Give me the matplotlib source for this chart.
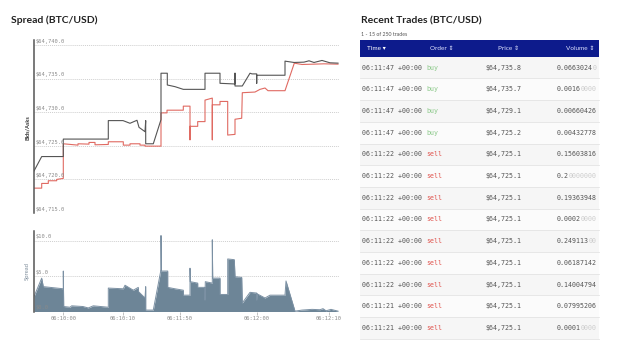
import matplotlib.pyplot as plt
from matplotlib.patches import Rectangle

W, H = 624, 341

# (t, price) points of the ask and bid lines, t runs along the time axis
ask_points = [(0, 64721.25), (7.7, 64723.4), (29.3, 64723.4), (29.3, 64726.0), (74.3, 64726.0),
              (74.3, 64728.75), (89, 64728.75), (96, 64728.35), (103, 64728.8), (105, 64727.75),
              (111, 64727.1), (111.7, 64728.75), (111.7, 64725.3), (119.3, 64725.3), (127, 64728.9),
              (127, 64735.8), (133.3, 64735.8), (133.3, 64734.05), (141, 64733.8), (149.3, 64733.4),
              (171, 64733.4), (171, 64735.8), (186, 64735.8), (186, 64734.3), (201, 64734.2),
              (201, 64735.8), (201, 64733.9), (208.3, 64733.9), (216, 64735.8), (218, 64735.7),
              (222.7, 64735.7), (222.7, 64734.3), (222.7, 64735.5), (251, 64735.5), (251, 64737.6),
              (260, 64737.4), (270, 64737.45), (275, 64737.65), (280, 64737.4), (288, 64737.7),
              (296, 64737.35), (304, 64737.3)]

bid_points = [(0, 64718.7), (7.7, 64718.7), (7.7, 64719.4), (14.3, 64719.4), (14.3, 64719.8),
              (22.7, 64719.8), (22.7, 64720.0), (29.3, 64720.15), (29.3, 64725.3), (44, 64725.1),
              (44, 64725.3), (55, 64725.25), (55, 64725.5), (61, 64725.5), (61, 64725.15),
              (74.3, 64725.2), (74.3, 64725.6), (89.3, 64725.6), (89.3, 64725.1), (96, 64725.1),
              (96, 64725.3), (106, 64725.3), (106, 64725.1), (111, 64725.1), (111, 64724.95),
              (127, 64724.95), (127, 64729.9), (133, 64729.9), (133, 64730.3), (149.3, 64730.3),
              (149.3, 64730.9), (156, 64730.9), (156, 64725.9), (156, 64727.9), (163.7, 64727.9),
              (163.7, 64728.6), (171, 64728.6), (171, 64731.8), (178.3, 64732.1), (178.3, 64725.9),
              (178.3, 64731.1), (186, 64731.1), (186, 64731.6), (193.7, 64731.6), (193.7, 64726.6),
              (201, 64726.7), (201, 64728.95), (207.7, 64729.1), (208.3, 64732.9), (221, 64733.0),
              (226, 64733.4), (231, 64733.6), (234, 64733.2), (251, 64733.2), (260.3, 64737.3),
              (268, 64737.1), (280, 64737.15), (290, 64737.2), (304, 64737.15)]

spread_points = [(0, 2.1), (7.7, 4.7), (9.3, 3.5), (16, 3.4), (22.7, 3.3), (29.3, 3.2), (29.3, 5.7),
                 (29.7, 0.7), (36, 0.6), (37.7, 0.8), (49, 0.7), (54.3, 0.5), (59.3, 0.8), (74.3, 0.6),
                 (74.3, 3.3), (89.3, 3.2), (91, 3.7), (99.3, 3.0), (104.3, 3.4), (104.5, 2.8),
                 (111, 1.9), (111.7, 3.5), (111.7, 0.2), (119.3, 0.2), (127, 5.9), (127, 10.7),
                 (127.3, 5.7), (133.7, 5.7), (133.7, 3.4), (141, 3.2), (149.3, 3.0), (149.3, 2.3),
                 (156, 2.3), (156, 6.1), (156.3, 4.2), (163.7, 4.0), (163.7, 3.4), (171, 3.4),
                 (171, 1.6), (171.3, 4.2), (178.3, 4.0), (178.3, 10.1), (178.7, 4.7), (186, 4.7),
                 (186, 2.4), (193.7, 2.4), (193.7, 7.4), (200.3, 7.3), (201, 4.9), (207.7, 4.8),
                 (208.3, 1.2), (216, 2.7), (222.7, 2.6), (222.7, 1.6), (223, 2.5), (231, 1.9),
                 (236, 2.3), (251, 2.3), (252, 4.3), (261, 0.05), (268, 0.2), (278, 0.3), (286, 0.25),
                 (289, 0.4), (292, 0.1), (297, 0.3), (304, 0.05)]

tick_pos = [29.3, 88.5, 146, 222.7, 295]
tick_labels = ['06:10:00', '06:10:10', '06:11:50', '06:12:00', '06:12:10']
price_ticks = [64715, 64720, 64725, 64730, 64735, 64740]
spread_ticks = [0, 5, 10]

trade_times = ['06:11:47'] * 4 + ['06:11:22'] * 7 + ['06:11:21'] * 2
trade_orders = ['buy'] * 4 + ['sell'] * 9
trade_prices = [64735.8, 64735.7, 64729.1, 64725.2] + [64725.1] * 9
trade_volumes = ['0.06630240', '0.00160000', '0.00660426', '0.00432778', '0.15603816',
                 '0.20000000', '0.19363948', '0.00020000', '0.24911300', '0.06187142',
                 '0.14004794', '0.07995206', '0.00010000']

mono = 'DejaVu Sans Mono'
sans = ['Lato', 'DejaVu Sans']
grid_c = '#cfcfcf'
label_c = '#8a8a8a'
mono_size = 4.8
char_w = 0.602 * mono_size * 100 / 72   # advance of one DejaVu Sans Mono glyph, px

def px_rect(left, top, right, bottom):
    return [left / W, 1 - bottom / H, (right - left) / W, (bottom - top) / H]

fig = plt.figure(figsize=(W / 100, H / 100), dpi=100)

# full-figure canvas in pixel units for the trades table
bg = fig.add_axes([0, 0, 1, 1])
bg.set_xlim(0, W)
bg.set_ylim(H, 0)
bg.axis('off')

fig.text(11 / W, 1 - 20.5 / H, 'Spread (BTC/USD)', fontsize=7.5, fontweight='bold',
         family=sans, va='center', color='#222222')
fig.text(361 / W, 1 - 20.5 / H, 'Recent Trades (BTC/USD)', fontsize=7.5, fontweight='bold',
         family=sans, va='center', color='#222222')
fig.text(361 / W, 1 - 34 / H, '1 - 15 of 250 trades', fontsize=3.8, family=sans,
         va='center', color='#555555')

#Top: bids / asks
ax1 = fig.add_axes(px_rect(34, 40, 339, 213))
ax1.plot([p[0] for p in bid_points], [p[1] for p in bid_points], color='#e06a62', lw=0.8)
ax1.plot([p[0] for p in ask_points], [p[1] for p in ask_points], color='#555555', lw=0.8)
ax1.set_xlim(0, 305)
ax1.set_ylim(64715, 64715 + 173 / 6.72)

#Bottom: spread area
ax2 = fig.add_axes(px_rect(34, 231, 339, 311.5))
st = [p[0] for p in spread_points]
sv = [p[1] for p in spread_points]
ax2.fill_between(st, 0, sv, color='#6d8597', lw=0)
ax2.plot(st, sv, color='#7b90a3', lw=0.7)
ax2.set_xlim(0, 305)
ax2.set_ylim(0, 80.5 / 7.1)

for ax, ticks, fmt in [(ax1, price_ticks, '${:,.1f}'), (ax2, spread_ticks, '${:.1f}')]:
    for v in ticks:
        ax.axhline(v, color=grid_c, lw=0.7, ls=(0, (1, 1)), zorder=0)
        ax.annotate(fmt.format(v), xy=(0, v), xycoords=('axes fraction', 'data'),
                    xytext=(1.2, 0.8), textcoords='offset points', va='bottom', ha='left',
                    fontsize=3.9, family=mono, color=label_c)
    ax.set_yticks([])
    for s in ['top', 'right', 'bottom']:
        ax.spines[s].set_visible(False)
    ax.spines['left'].set_color('#555555')
    ax.spines['left'].set_linewidth(1.1)

ax1.set_xticks([])
ax2.set_xticks(tick_pos)
ax2.set_xticklabels(tick_labels, fontsize=3.9, family=mono, color=label_c)
ax2.tick_params(axis='x', length=2, width=0.5, color='#aaaaaa', pad=1.5)

fig.text(27 / W, 1 - 128 / H, 'Bids/Asks', rotation=90, fontsize=4, fontweight='bold',
         family=sans, color='#333333', ha='center', va='center')
fig.text(27 / W, 1 - 271 / H, 'Spread', rotation=90, fontsize=4.2, family=sans,
         color='#7a8a98', ha='center', va='center')

#Trades table
bg.add_patch(Rectangle((360, 40), 239, 16.7, color='#0d1b8c', lw=0))
header_y = 48.5
bg.text(367, header_y, 'Time \u25be', color='white', fontsize=4.6, family=sans, va='center')
bg.text(430, header_y, 'Order \u21d5', color='#dfe3ff', fontsize=4.6, family=sans, va='center')
bg.text(498, header_y, 'Price \u21d5', color='#dfe3ff', fontsize=4.6, family=sans, va='center')
bg.text(595, header_y, 'Volume \u21d5', color='#dfe3ff', fontsize=4.6, family=sans,
        va='center', ha='right')

row_h = 21.7
for i in range(len(trade_times)):
    top = 56.7 + i * row_h
    bg.add_patch(Rectangle((360, top), 239, row_h, color='#f6f6f6' if i % 2 == 0 else '#fbfbfb', lw=0))
    bg.plot([360, 599], [top + row_h, top + row_h], color='#e4e4e4', lw=0.6)
    cy = top + row_h / 2
    bg.text(362.5, cy, trade_times[i] + ' +00:00', fontsize=mono_size, family=mono,
            color='#555555', va='center')
    oc = '#8cc98a' if trade_orders[i] == 'buy' else '#e0554f'
    bg.text(362.5 + 16 * char_w, cy, trade_orders[i], fontsize=mono_size, family=mono,
            color=oc, va='center')
    bg.text(485.5, cy, '${:,.1f}'.format(trade_prices[i]), fontsize=mono_size, family=mono,
            color='#555555', va='center')
    # trailing zeros of the volume are drawn faded
    vol = trade_volumes[i]
    head = vol.rstrip('0')
    tail = vol[len(head):]
    bg.text(557, cy, head, fontsize=mono_size, family=mono, color='#555555', va='center')
    if tail:
        bg.text(557 + len(head) * char_w, cy, tail, fontsize=mono_size, family=mono,
                color='#cccccc', va='center')

fig.savefig('out.png', dpi=100)
